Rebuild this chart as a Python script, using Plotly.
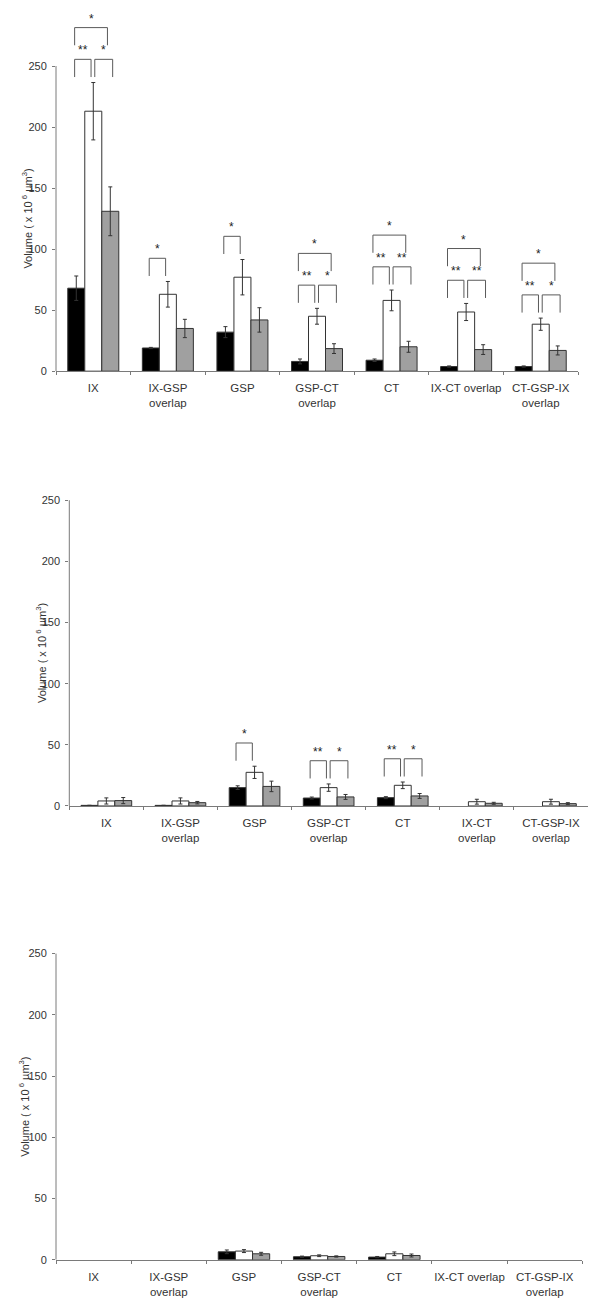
import plotly.graph_objects as go

categories = ["IX", "IX-GSP overlap", "GSP", "GSP-CT overlap", "CT", "IX-CT overlap", "CT-GSP-IX overlap"]

labels_top = ["IX", "IX-GSP<br>overlap", "GSP", "GSP-CT<br>overlap", "CT", "IX-CT overlap", "CT-GSP-IX<br>overlap"]
labels_mid = ["IX", "IX-GSP<br>overlap", "GSP", "GSP-CT<br>overlap", "CT", "IX-CT<br>overlap", "CT-GSP-IX<br>overlap"]
labels_bot = ["IX", "IX-GSP<br>overlap", "GSP", "GSP-CT<br>overlap", "CT", "IX-CT overlap", "CT-GSP-IX<br>overlap"]

# panel 1
top_black = [68, 19, 32, 8, 9, 3.8, 3.8]
top_black_err = [10, 0.5, 4.5, 2, 1, 0.5, 0.5]
top_white = [213, 63, 77, 45, 58, 48.5, 38.5]
top_white_err = [23.5, 10.5, 14.5, 6.5, 8.5, 7, 5]
top_gray = [131, 35, 42, 18.5, 20, 17.7, 17]
top_gray_err = [20, 7.5, 10, 4, 4.5, 4, 3.7]

# panel 2
mid_black = [0.5, 0.5, 15, 6.5, 6.8, 0, 0]
mid_black_err = [0, 0, 1.5, 0.8, 0.8, 0, 0]
mid_white = [4.1, 4.1, 27.5, 15, 16.9, 3.5, 3.5]
mid_white_err = [2.5, 2.5, 5, 3, 2.7, 2, 2]
mid_gray = [4.4, 2.7, 16, 7.4, 8.2, 2.2, 1.9]
mid_gray_err = [2.5, 1, 4.3, 2, 2, 0.8, 0.8]

# panel 3
bot_black = [0, 0, 6.5, 2.5, 2.2, 0, 0]
bot_black_err = [0, 0, 1.5, 0.5, 0.5, 0, 0]
bot_white = [0, 0, 7.1, 3.3, 4.9, 0, 0]
bot_white_err = [0, 0, 1.2, 0.7, 1.5, 0, 0]
bot_gray = [0, 0, 4.9, 2.7, 3.5, 0, 0]
bot_gray_err = [0, 0, 1.2, 0.5, 1.2, 0, 0]

# significance: (category index, pair, stars)
top_sig = [(0, "ab", "**"), (0, "bc", "*"), (0, "ac", "*"),
           (1, "ab", "*"), (2, "ab", "*"),
           (3, "ab", "**"), (3, "bc", "*"), (3, "ac", "*"),
           (4, "ab", "**"), (4, "bc", "**"), (4, "ac", "*"),
           (5, "ab", "**"), (5, "bc", "**"), (5, "ac", "*"),
           (6, "ab", "**"), (6, "bc", "*"), (6, "ac", "*")]
mid_sig = [(2, "ab", "*"), (3, "ab", "**"), (3, "bc", "*"), (4, "ab", "**"), (4, "bc", "*")]
bot_sig = []

FONT = "Liberation Sans, Arial, sans-serif"
AXIS_COLOR = "#7a7a7a"
BAR_LINE = "#333333"
BRACKET = "#5a5a5a"

panels = [
    dict(labels=labels_top, series=[(top_black, top_black_err), (top_white, top_white_err), (top_gray, top_gray_err)],
         sig=top_sig, xdom=[56 / 604, 578 / 604], ydom=[0.71425, 0.98674], title_x=18 / 604),
    dict(labels=labels_mid, series=[(mid_black, mid_black_err), (mid_white, mid_white_err), (mid_gray, mid_gray_err)],
         sig=mid_sig, xdom=[69.3 / 604, 588 / 604], ydom=[0.37954, 0.65257], title_x=32 / 604),
    dict(labels=labels_bot, series=[(bot_black, bot_black_err), (bot_white, bot_white_err), (bot_gray, bot_gray_err)],
         sig=bot_sig, xdom=[56 / 604, 582.3 / 604], ydom=[0.03019, 0.30360], title_x=15 / 604),
]

fills = ["#000000", "#ffffff", "#a0a0a0"]
pair_offsets = {"ab": (-0.25, -0.03), "bc": (0.02, 0.26), "ac": (-0.25, 0.19)}
LEG = 14.5

fig = go.Figure()
shapes = []
annotations = []

for i, p in enumerate(panels):
    n = "" if i == 0 else str(i + 1)
    xa, ya = "x" + n, "y" + n
    for (vals, errs), fill in zip(p["series"], fills):
        # empty bars are left out entirely (no outline, no error cap)
        shown = [v if v > 0 else None for v in vals]
        fig.add_trace(go.Bar(
            x=categories, y=shown, xaxis=xa, yaxis=ya,
            marker=dict(color=fill, line=dict(color=BAR_LINE, width=1)),
            error_y=dict(type="data", array=errs, color="#333333", thickness=1, width=2),
            showlegend=False, hoverinfo="skip",
        ))

    # bracket level from the tallest error bar of the group
    for ci, pair, stars in p["sig"]:
        tops = [vals[ci] + errs[ci] for vals, errs in p["series"]]
        level = max(tops) + 19
        if pair == "ac":
            level += 26
        x0 = ci + pair_offsets[pair][0]
        x1 = ci + pair_offsets[pair][1]
        for sx0, sy0, sx1, sy1 in [(x0, level - LEG, x0, level), (x0, level, x1, level), (x1, level, x1, level - LEG)]:
            shapes.append(dict(type="line", xref=xa, yref=ya, x0=sx0, y0=sy0, x1=sx1, y1=sy1,
                               line=dict(color=BRACKET, width=1)))
        annotations.append(dict(x=(x0 + x1) / 2, y=level, xref=xa, yref=ya, text=stars, showarrow=False,
                                yanchor="bottom", yshift=0, font=dict(size=12, color="#222222", family=FONT)))

    # y axis line only spans 0..250
    shapes.append(dict(type="line", xref=xa + " domain", yref=ya, x0=0, x1=0, y0=0, y1=250,
                       line=dict(color=AXIS_COLOR, width=1)))
    annotations.append(dict(x=p["title_x"], y=125, xref="paper", yref=ya, textangle=-90, showarrow=False,
                            text="Volume ( x 10<sup> 6</sup> µm<sup>3</sup>)",
                            font=dict(size=11, color="#333333", family=FONT)))

    fig.layout["xaxis" + n] = dict(
        domain=p["xdom"], anchor=ya, type="category",
        tickmode="array", tickvals=categories, ticktext=p["labels"], tickangle=0,
        tickson="boundaries", ticks="outside", ticklen=3, tickcolor=AXIS_COLOR,
        ticklabelstandoff=6,
        showline=True, linecolor=AXIS_COLOR, linewidth=1, showgrid=False, zeroline=False,
        tickfont=dict(size=11.5, color="#333333", family=FONT),
    )
    fig.layout["yaxis" + n] = dict(
        domain=p["ydom"], anchor=xa, range=[0, 290],
        tickmode="array", tickvals=[0, 50, 100, 150, 200, 250],
        ticks="outside", ticklen=3, tickcolor=AXIS_COLOR, ticklabelstandoff=3,
        showline=False, showgrid=False, zeroline=False,
        tickfont=dict(size=11, color="#333333", family=FONT),
    )

fig.update_layout(
    width=604, height=1305,
    margin=dict(l=0, r=0, t=0, b=0),
    barmode="group", bargap=0.316, bargroupgap=0,
    paper_bgcolor="white", plot_bgcolor="white",
    shapes=shapes, annotations=annotations,
    font=dict(family=FONT),
)

# page margin would push the figure 8px right/down
fig.write_html("out.html", config={"displayModeBar": False},
               post_script="document.body.style.margin='0';")
